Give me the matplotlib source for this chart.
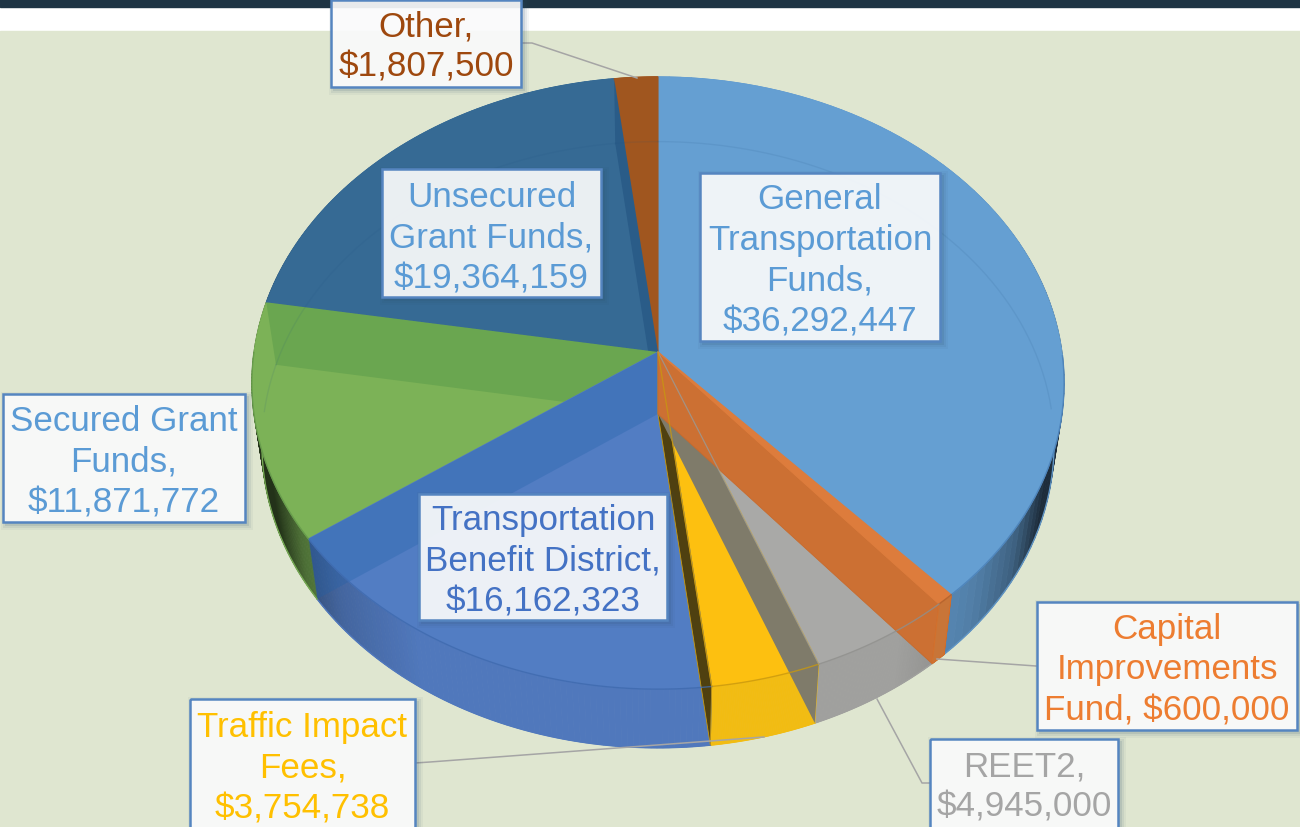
import numpy as np
import matplotlib
matplotlib.use("Agg")
import matplotlib.pyplot as plt
from matplotlib.patches import Polygon, Rectangle
from matplotlib.collections import PolyCollection

plt.rcParams['font.family'] = ['Liberation Sans', 'DejaVu Sans']

# Data, clockwise from 12 o'clock
names = ["General\nTransportation\nFunds,", "Capital\nImprovements\nFund,", "REET2,", "Traffic Impact\nFees,",
         "Transportation\nBenefit District,", "Secured Grant\nFunds,", "Unsecured\nGrant Funds,", "Other,"]
values = [36292447, 600000, 4945000, 3754738, 16162323, 11871772, 19364159, 1807500]

# Colours
top_colors = ["#659fd2", "#dd7c3c", "#a9a9a7", "#fdc010", "#527dc3", "#7cb257", "#366a94", "#a0561f"]
wall_colors = ["#5f94c4", "#c87538", "#a0a09e", "#f2bc12", "#5078bc", "#74a852", "#366a94", "#a0561f"]
text_colors = ["#5b9bd5", "#ed7d31", "#a5a5a5", "#ffc000", "#4472c4", "#5b9bd5", "#5b9bd5", "#9e480e"]

# Label boxes: left, top, right, bottom, then text centre
boxes = [(700, 174, 940, 342), (1037, 603, 1297, 731), (930, 740, 1118, 845), (190, 700, 415, 845),
         (419, 495, 667, 621), (3, 395, 245, 523), (382, 170, 601, 298), (331, 1, 521, 88)]
text_y = [261, 670, 787, 768, 561, 462, 238, 47]

# Leader lines
leaders = [([1036, 937], [667, 660]),
           ([930, 922, 877], [784, 784, 700]),
           ([415, 430, 764], [764, 763, 738]),
           ([521, 532, 637], [44, 44, 79])]

# Perspective of the pie
cx = 658
k = 0.1013
top = dict(cy=353, a=404, b=303)
bot = dict(cy=415, a=394, b=300)


def project(theta, cy, a, b):
    t = np.radians(theta)
    w = 1 + k * np.cos(t)
    return np.column_stack([cx + a * np.sin(t) / w, cy - b * np.cos(t) / w])


def shade(color, x):
    # wall gets darker towards the sides of the pie
    u = abs(x - cx) / 400
    f = np.interp(u, [0, 0.6, 0.8, 0.9, 0.97], [1, 1, 0.85, 0.65, 0.3])
    return tuple(np.array(matplotlib.colors.to_rgb(color)) * f)


fig = plt.figure(figsize=(13, 8.28), dpi=100)
ax = fig.add_axes([0, 0, 1, 1])
ax.set_xlim(0, 1300)
ax.set_ylim(828, 0)
ax.axis("off")

# Slide background
ax.add_patch(Rectangle((0, 0), 1300, 828, color="white", zorder=0))
ax.add_patch(Rectangle((0, 0), 1300, 8, color="#1e3444", zorder=0))
ax.add_patch(Rectangle((0, 32), 1300, 796, color="#dfe6d0", zorder=0))

edges = np.concatenate([[0], np.cumsum(values)]) / np.sum(values) * 360


def arc(i, n=80):
    return np.linspace(edges[i], edges[i + 1], n)


def band(theta):
    # radial wall of a slice, seen through the translucent top
    return np.vstack([project(np.array([theta]), **top), [[cx, top["cy"]]],
                      [[cx, bot["cy"]]], project(np.array([theta]), **bot)])


# Outer walls
for i in range(len(values)):
    th = arc(i)
    a = project(th, **top)
    b = project(th, **bot)
    quads = [[a[j], a[j + 1], b[j + 1], b[j]] for j in range(len(th) - 1)]
    cols = [shade(wall_colors[i], (a[j, 0] + a[j + 1, 0]) / 2) for j in range(len(th) - 1)]
    ax.add_collection(PolyCollection(quads, facecolors=cols, edgecolors=cols, linewidths=0.6, zorder=1))
    ax.plot(b[:, 0], b[:, 1], color=wall_colors[i], lw=1, zorder=1)

# Top faces, green band has to go under the blue slice
top_z = [3, 8, 3, 3, 4, 3, 3, 3]
for i in range(len(values)):
    th = arc(i)
    pts = np.vstack([[[cx, top["cy"]]], project(th, **top)])
    ax.add_patch(Polygon(pts, closed=True, facecolor=top_colors[i], edgecolor=top_colors[i], lw=0.8, zorder=top_z[i]))

# Inner walls
ax.add_patch(Polygon(band(edges[6]), closed=True, facecolor="#6aa650", edgecolor="none", zorder=3.5))
ax.add_patch(Polygon(band(edges[5]), closed=True, facecolor="#2060a8", alpha=0.3, edgecolor="none", zorder=4.5))
ax.add_patch(Polygon(band(edges[4]), closed=True, facecolor="#4f4010", edgecolor="#c8980f", lw=0.6, zorder=5))
ax.add_patch(Polygon(band(edges[3]), closed=True, facecolor="#7f7b6a", edgecolor="none", zorder=6))
ax.add_patch(Polygon(band(edges[2]), closed=True, facecolor="#cc7033", edgecolor="#c86a2c", lw=0.6, zorder=7))
ax.add_patch(Polygon(band(edges[7]), closed=True, facecolor="#2a5c88", edgecolor="none", zorder=3.2))

# Capital fund wall on the rim
th = arc(1, 10)
a = project(th, **top)
b = project(th, **bot)
ax.add_patch(Polygon(np.vstack([a, b[::-1]]), closed=True, facecolor="#c87538", edgecolor="#d4702c", lw=0.8, zorder=8))

# Lines seen through the top: far side of the bottom rim and the front of the top rim
for i in range(len(values)):
    th = arc(i)
    front = (th > 90) & (th < 270)
    b = project(th, **bot)
    a = project(th, **top)
    ax.plot(b[~front, 0], b[~front, 1], color="#1f4f80", alpha=0.1, lw=1, zorder=8.5)
    dark = tuple(np.array(matplotlib.colors.to_rgb(top_colors[i])) * 0.8)
    rim = {0: "#4a80b8", 2: "#8f8f8c", 3: "#c8980f", 4: "#3f6aae", 5: "#64994a"}.get(i, dark)
    ax.plot(a[front, 0], a[front, 1], color=rim, lw=1, alpha=0.8, zorder=8.5)
# grey and yellow radial lines on top of the orange
for i, c in [(2, "#9a9a96"), (3, "#c8980f")]:
    p = project(np.array([edges[i + 1]]), **top)[0]
    ax.plot([cx, p[0]], [top["cy"], p[1]], color=c, lw=0.9, alpha=0.8, zorder=8.6)

# Leader lines
for lx, ly in leaders:
    ax.plot(lx, ly, color="#a5a5a5", lw=1.1, zorder=9)

# Labels
for i in range(len(values)):
    x0, y0, x1, y1 = boxes[i]
    for grow, al in [(5, 0.05), (3, 0.08), (1, 0.12)]:
        ax.add_patch(Rectangle((x0 + 3 - grow, y0 + 3 - grow), x1 - x0 + 2 * grow, y1 - y0 + 2 * grow,
                               facecolor="#2f4f68", alpha=al, edgecolor="none", zorder=10))
    ax.add_patch(Rectangle((x0, y0), x1 - x0, y1 - y0, facecolor="white", alpha=0.9, edgecolor="none", zorder=11))
    ax.add_patch(Rectangle((x0, y0), x1 - x0, y1 - y0, facecolor="none", edgecolor="#5585c0", lw=1.8, zorder=12))
    sep = " " if i == 1 else "\n"
    ax.text((x0 + x1) / 2, text_y[i], names[i] + sep + "${:,}".format(values[i]), color=text_colors[i],
            fontsize=25.2, ha="center", va="center", linespacing=1.3, zorder=13)

fig.savefig("out.png", dpi=100)
